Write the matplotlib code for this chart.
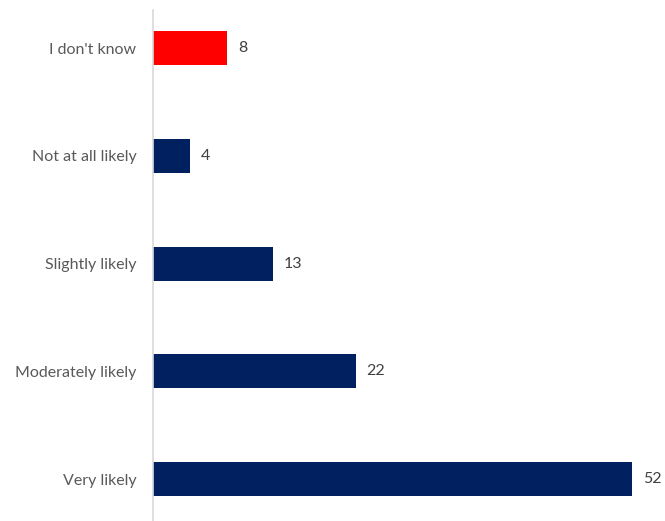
import matplotlib
matplotlib.use("Agg")
import matplotlib.pyplot as plt

categories = ["I don't know", "Not at all likely", "Slightly likely", "Moderately likely", "Very likely"]
values = [8, 4, 13, 22, 52]
colors = ["#FF0000", "#002060", "#002060", "#002060", "#002060"]

plt.rcParams['font.family'] = ['Lato', 'DejaVu Sans']

W, H = 665, 521
fig = plt.figure(figsize=(W/100, H/100), dpi=100)
ax = fig.add_axes([153/W, 0, 1 - 153/W, (H - 10)/H])

ypos = list(range(len(categories)))
ax.barh(ypos, values, height=0.316, color=colors)
ax.set_ylim(4.389, -0.353)
ax.set_xlim(0, 55.6)

ax.set_yticks(ypos)
ax.set_yticklabels(categories, fontsize=11.5, color="#595959")
ax.tick_params(axis='y', length=0, pad=12)
ax.set_xticks([])

for s in ["top", "right", "bottom"]:
    ax.spines[s].set_visible(False)
ax.spines["left"].set_color("#D9D9D9")
ax.spines["left"].set_linewidth(1.2)

for y, v in zip(ypos, values):
    ax.annotate(str(v), (v, y), xytext=(8, 0), textcoords="offset points",
                va="center", ha="left", fontsize=11.5, color="#404040")

fig.savefig("out.png", dpi=100)
